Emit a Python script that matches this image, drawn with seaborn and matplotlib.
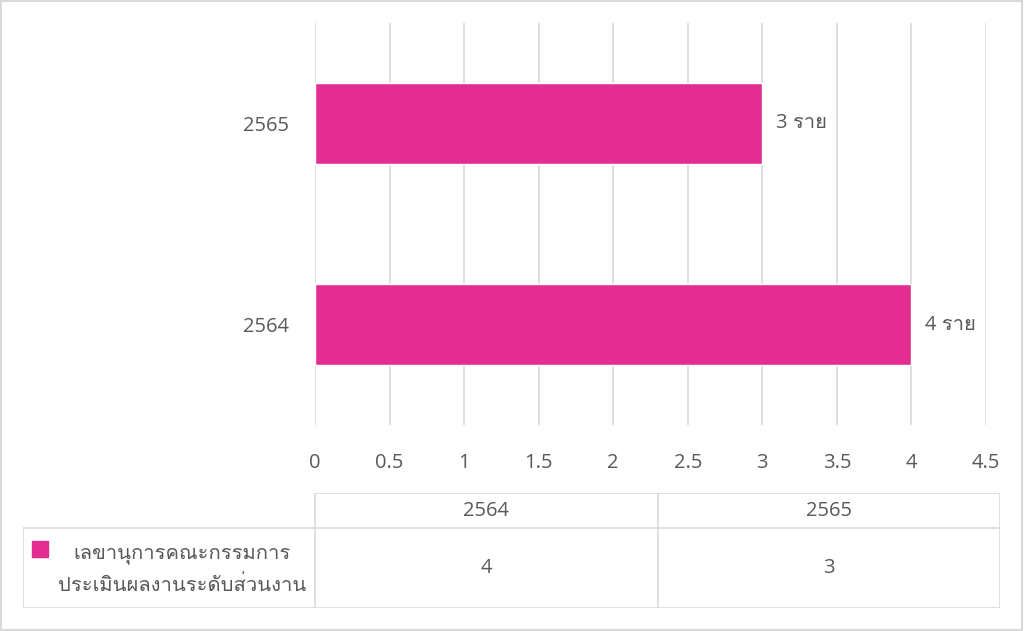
import seaborn as sns
import pandas as pd
import matplotlib as mpl
from matplotlib import pyplot as plt
from matplotlib import font_manager
from matplotlib.ft2font import FT2Font

years = ['2565', '2564']
counts = [3, 4]
table_years = ['2564', '2565']
table_counts = [4, 3]
series_name = 'เลขานุการคณะกรรมการ\nประเมินผลงานระดับส่วนงาน'
unit = 'ราย'
x_ticks = [0, 0.5, 1, 1.5, 2, 2.5, 3, 3.5, 4, 4.5]

bar_color = '#E32D91'
text_color = '#595959'
line_color = '#D9D9D9'
fs = 14.5


def find_thai_font():
    for f in font_manager.fontManager.ttflist:
        try:
            if ord('ร') in FT2Font(f.fname).get_charmap():
                return f.name
        except Exception:
            pass
    return None


sns.set_theme(style='white')
thai = find_thai_font()
families = ['Open Sans'] + ([thai] if thai else []) + ['DejaVu Sans']
plt.rcParams['font.family'] = families

fig = plt.figure(figsize=(10.24, 6.31), dpi=100)
ax = fig.add_axes([315 / 1024, 1 - 425 / 631, 671 / 1024, 402 / 631])

df = pd.DataFrame({'year': years, 'count': counts})
sns.barplot(data=df, x='count', y='year', order=years, color=bar_color,
            width=0.4, saturation=1, ax=ax)
ax.set_xlim(0, 4.5)
ax.set_xticks(x_ticks)
ax.set_xticklabels([f'{t:g}' for t in x_ticks])
ax.grid(axis='x', color=line_color, linewidth=1.2)
ax.grid(axis='y', visible=False)
ax.set_axisbelow(True)
for s in ax.spines.values():
    s.set_visible(False)
ax.set_xlabel('')
ax.set_ylabel('')
ax.tick_params(axis='x', length=0, pad=20, labelsize=fs, labelcolor=text_color)
ax.tick_params(axis='y', length=0, pad=19, labelsize=fs, labelcolor=text_color)
ax.bar_label(ax.containers[0], labels=[f'{c} {unit}' for c in counts],
             padding=10, fontsize=fs, color=text_color)

# data table below the chart
tax = fig.add_axes([23 / 1024, 1 - 608 / 631, 977 / 1024, 115 / 631])
tax.set_xlim(0, 977)
tax.set_ylim(115, 0)
tax.axis('off')
label_w = 292
col_w = (977 - label_w) / len(table_years)
head_h = 35
lk = dict(color=line_color, linewidth=1.2)
tax.plot([label_w, 977], [0, 0], **lk)
tax.plot([0, 977], [head_h, head_h], **lk)
tax.plot([0, 977], [115, 115], **lk)
tax.plot([0, 0], [head_h, 115], **lk)
for i in range(len(table_years) + 1):
    x = label_w + i * col_w
    tax.plot([x, x], [0, 115], **lk)
for i, (y, c) in enumerate(zip(table_years, table_counts)):
    xc = label_w + (i + 0.5) * col_w
    tax.text(xc, head_h / 2, y, ha='center', va='center', fontsize=fs, color=text_color)
    tax.text(xc, (head_h + 115) / 2, str(c), ha='center', va='center',
             fontsize=fs, color=text_color)
tax.add_patch(mpl.patches.Rectangle((9, 48), 16, 16, color=bar_color))
tax.text(159, 77, series_name, ha='center', va='center', fontsize=fs,
         color=text_color, linespacing=1.75, multialignment='center')

# outer border of the figure
fig.patches.append(mpl.patches.Rectangle((0.001, 0.002), 0.997, 0.996, transform=fig.transFigure,
                                         fill=False, edgecolor=line_color, linewidth=1.5))

plt.savefig('out.png', dpi=100)
